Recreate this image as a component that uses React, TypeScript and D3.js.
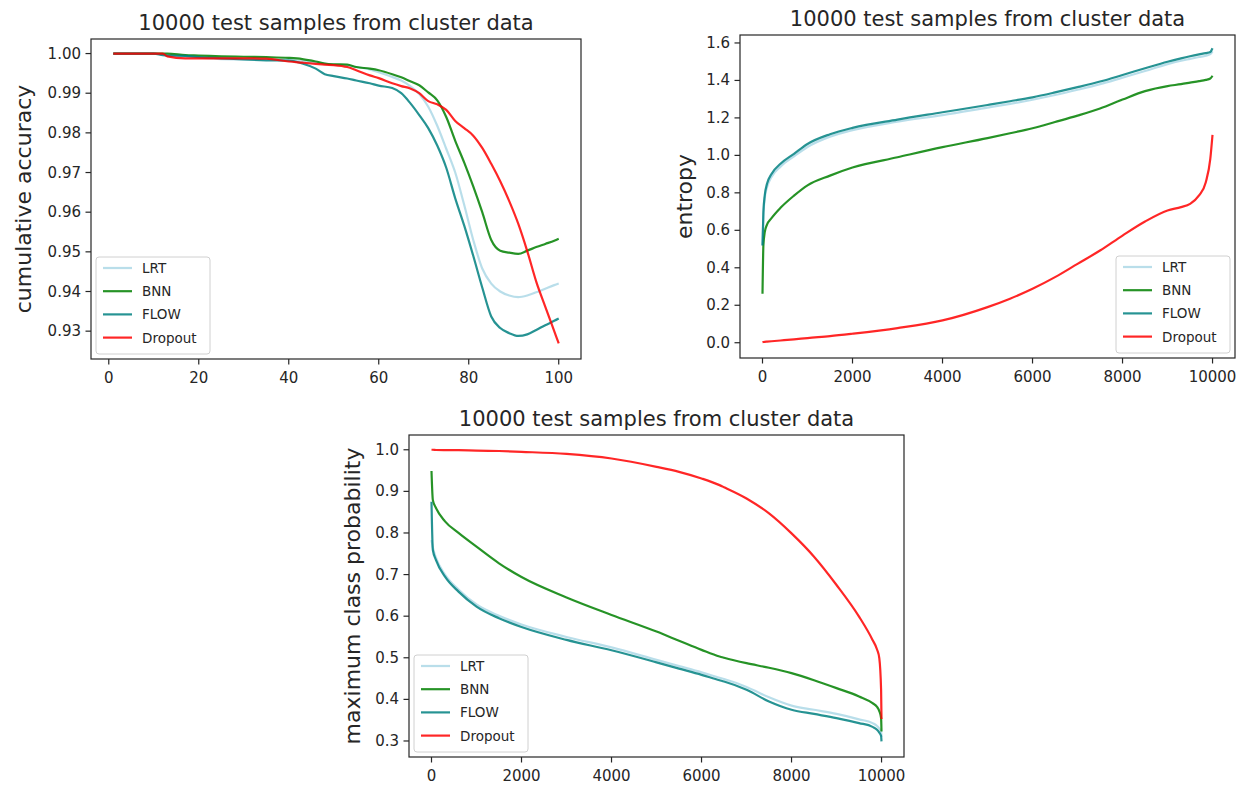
import React, { useEffect, useRef } from "react";
import * as d3 from "d3";

const seriesNames = ["LRT", "BNN", "FLOW", "Dropout"];
const seriesColors = ["#add8e6", "#008000", "#008080", "#ff0000"];

const titleText = "10000 test samples from cluster data";

// panel 1: cumulative accuracy vs percent of samples
const accX = [1, 5, 10, 12, 13, 17, 20, 25, 30, 35, 40, 43, 46, 48, 50, 53, 55, 58, 60, 63, 65, 67, 69, 71, 73, 75, 77, 79, 81, 83, 85, 87, 89, 91, 93, 95, 97, 99, 100];
const accLRT = [1.0, 1.0, 1.0, 0.9998, 0.9995, 0.9993, 0.999, 0.9986, 0.9985, 0.9985, 0.9984, 0.9981, 0.9977, 0.9975, 0.9972, 0.997, 0.9966, 0.996, 0.9953, 0.9941, 0.9932, 0.9918, 0.9898, 0.9866, 0.9818, 0.976, 0.97, 0.9618, 0.953, 0.9458, 0.942, 0.94, 0.939, 0.9386, 0.939, 0.9398, 0.9407, 0.9416, 0.942];
const accBNN = [1.0, 1.0, 1.0, 1.0, 1.0, 0.9996, 0.9995, 0.9993, 0.9992, 0.9991, 0.9989, 0.9986, 0.998, 0.9975, 0.9973, 0.9972, 0.9966, 0.9962, 0.9958, 0.9948, 0.994, 0.993, 0.992, 0.9902, 0.9882, 0.984, 0.978, 0.9725, 0.9665, 0.96, 0.953, 0.9503, 0.9498, 0.9495, 0.9503, 0.9512, 0.952, 0.9528, 0.9533];
const accFLOW = [1.0, 1.0, 1.0, 0.9996, 0.9995, 0.9994, 0.9991, 0.9988, 0.9985, 0.9983, 0.9982, 0.9975, 0.9962, 0.9948, 0.9943, 0.9937, 0.9932, 0.9925, 0.9919, 0.9913, 0.99, 0.9875, 0.9845, 0.9812, 0.9768, 0.9712, 0.9635, 0.9566, 0.949, 0.941, 0.9337, 0.9308, 0.9295, 0.9288, 0.9292, 0.9303, 0.9315, 0.9326, 0.9332];
const accDropout = [1.0, 1.0, 1.0, 1.0, 0.9993, 0.9988, 0.9988, 0.9988, 0.9988, 0.9987, 0.998, 0.9977, 0.9974, 0.9972, 0.9971, 0.9966, 0.9958, 0.9945, 0.9938, 0.9925, 0.9918, 0.9912, 0.99, 0.988, 0.9872, 0.9858, 0.983, 0.9812, 0.9793, 0.9762, 0.9722, 0.9678, 0.9628, 0.9571, 0.9502, 0.9425, 0.9362, 0.93, 0.9269];
const accTicksX = [0, 20, 40, 60, 80, 100];
const accTicksY = [0.93, 0.94, 0.95, 0.96, 0.97, 0.98, 0.99, 1.0];

// panel 2: sorted entropy
const entX = [0, 20, 50, 100, 200, 400, 700, 1000, 1500, 2000, 3000, 4000, 5000, 5500, 6000, 6500, 7000, 7500, 8000, 8500, 9000, 9300, 9500, 9700, 9850, 9950, 9999];
const entLRT = [0.52, 0.68, 0.77, 0.83, 0.885, 0.94, 0.995, 1.045, 1.1, 1.135, 1.18, 1.215, 1.255, 1.275, 1.297, 1.322, 1.35, 1.38, 1.415, 1.45, 1.487, 1.505, 1.515, 1.525, 1.532, 1.54, 1.555];
const entBNN = [0.261, 0.52, 0.59, 0.63, 0.665, 0.72, 0.785, 0.84, 0.892, 0.935, 0.99, 1.044, 1.092, 1.118, 1.145, 1.178, 1.212, 1.25, 1.298, 1.343, 1.37, 1.38, 1.388, 1.396, 1.403, 1.41, 1.425];
const entFLOW = [0.519, 0.697, 0.786, 0.848, 0.901, 0.955, 1.008, 1.061, 1.113, 1.147, 1.191, 1.23, 1.269, 1.289, 1.31, 1.336, 1.364, 1.394, 1.429, 1.465, 1.5, 1.518, 1.529, 1.539, 1.546, 1.552, 1.572];
const entDropout = [0.003, 0.004, 0.005, 0.006, 0.008, 0.012, 0.018, 0.025, 0.035, 0.048, 0.078, 0.119, 0.19, 0.235, 0.288, 0.35, 0.421, 0.492, 0.572, 0.647, 0.706, 0.724, 0.741, 0.786, 0.857, 0.981, 1.109];
const entTicksX = [0, 2000, 4000, 6000, 8000, 10000];
const entTicksY = [0.0, 0.2, 0.4, 0.6, 0.8, 1.0, 1.2, 1.4, 1.6];

// panel 3: sorted maximum class probability
const mcpX = [0, 30, 100, 300, 600, 1000, 1500, 2000, 3000, 4000, 5000, 5500, 6000, 6400, 6500, 7000, 7500, 8000, 8500, 9000, 9500, 9800, 9900, 9950, 9990, 9999];
const mcpLRT = [0.783, 0.765, 0.74, 0.7, 0.664, 0.628, 0.601, 0.58, 0.55, 0.525, 0.495, 0.48, 0.465, 0.452, 0.449, 0.43, 0.405, 0.385, 0.375, 0.365, 0.352, 0.343, 0.336, 0.33, 0.322, 0.31];
const mcpBNN = [0.949, 0.879, 0.86, 0.828, 0.8, 0.767, 0.727, 0.694, 0.645, 0.603, 0.563, 0.541, 0.519, 0.503, 0.5, 0.487, 0.476, 0.463, 0.446, 0.427, 0.407, 0.391, 0.382, 0.372, 0.355, 0.323];
const mcpFLOW = [0.875, 0.759, 0.735, 0.695, 0.659, 0.623, 0.595, 0.574, 0.543, 0.518, 0.489, 0.474, 0.459, 0.446, 0.443, 0.423, 0.395, 0.375, 0.365, 0.355, 0.343, 0.334, 0.327, 0.32, 0.312, 0.299];
const mcpDropout = [1.0, 1.0, 0.9995, 0.9993, 0.999, 0.998, 0.997, 0.995, 0.99, 0.979, 0.959, 0.947, 0.931, 0.915, 0.91, 0.883, 0.847, 0.799, 0.743, 0.675, 0.599, 0.543, 0.52, 0.499, 0.423, 0.353];
const mcpTicksX = [0, 2000, 4000, 6000, 8000, 10000];
const mcpTicksY = [0.3, 0.4, 0.5, 0.6, 0.7, 0.8, 0.9, 1.0];

const FONT = "DejaVu Sans, Liberation Sans, sans-serif";

function drawPanel(svg, cfg) {
  const { left, right, top, bottom, xs, ys, xDomain, yDomain, xTicks, yTicks, yFmt, ylabel, ylabelX, legendPos } = cfg;

  const x = d3.scaleLinear().domain(xDomain).range([left, right]);
  const y = d3.scaleLinear().domain(yDomain).range([bottom, top]);

  const g = svg.append("g");

  // clip to axes area
  const clipId = `clip-${left}-${top}`;
  g.append("clipPath").attr("id", clipId)
    .append("rect").attr("x", left).attr("y", top).attr("width", right - left).attr("height", bottom - top);

  const line = d3.line().curve(d3.curveMonotoneX).x(d => x(d[0])).y(d => y(d[1]));
  ys.forEach((vals, i) => {
    g.append("path")
      .attr("clip-path", `url(#${clipId})`)
      .attr("d", line(xs.map((xv, j) => [xv, vals[j]])))
      .attr("fill", "none")
      .attr("stroke", seriesColors[i])
      .attr("stroke-opacity", 0.85)
      .attr("stroke-width", 2.2)
      .attr("stroke-linejoin", "round");
  });

  // spines
  g.append("rect")
    .attr("x", left).attr("y", top)
    .attr("width", right - left).attr("height", bottom - top)
    .attr("fill", "none").attr("stroke", "#262626").attr("stroke-width", 1.2);

  // x ticks
  xTicks.forEach(t => {
    g.append("line").attr("x1", x(t)).attr("x2", x(t)).attr("y1", bottom).attr("y2", bottom + 5.5)
      .attr("stroke", "#262626").attr("stroke-width", 1.2);
    g.append("text").attr("x", x(t)).attr("y", bottom + 24)
      .attr("text-anchor", "middle").attr("font-family", FONT).attr("font-size", 15).attr("fill", "#262626")
      .text(t);
  });

  // y ticks
  yTicks.forEach(t => {
    g.append("line").attr("x1", left - 5.5).attr("x2", left).attr("y1", y(t)).attr("y2", y(t))
      .attr("stroke", "#262626").attr("stroke-width", 1.2);
    g.append("text").attr("x", left - 10).attr("y", y(t))
      .attr("text-anchor", "end").attr("dominant-baseline", "central")
      .attr("font-family", FONT).attr("font-size", 15).attr("fill", "#262626")
      .text(d3.format(yFmt)(t));
  });

  // title
  g.append("text").attr("x", (left + right) / 2).attr("y", top - 9)
    .attr("text-anchor", "middle").attr("font-family", FONT).attr("font-size", 21).attr("fill", "#262626")
    .text(titleText);

  // y label
  g.append("text")
    .attr("transform", `translate(${ylabelX},${(top + bottom) / 2}) rotate(-90)`)
    .attr("text-anchor", "middle").attr("dominant-baseline", "central")
    .attr("font-family", FONT).attr("font-size", 22).attr("fill", "#262626")
    .text(ylabel);

  // legend
  const lw = 114, lh = 97;
  const lx = legendPos === "right" ? right - 5 - lw : left + 5;
  const ly = bottom - 5 - lh;
  const lg = g.append("g");
  lg.append("rect").attr("x", lx).attr("y", ly).attr("width", lw).attr("height", lh)
    .attr("rx", 3).attr("fill", "white").attr("fill-opacity", 0.8)
    .attr("stroke", "#d0d0d0").attr("stroke-width", 1);
  seriesNames.forEach((name, i) => {
    const cy = ly + 11 + i * 23.2;
    lg.append("line").attr("x1", lx + 7).attr("x2", lx + 36).attr("y1", cy).attr("y2", cy)
      .attr("stroke", seriesColors[i]).attr("stroke-opacity", 0.85).attr("stroke-width", 2.2);
    lg.append("text").attr("x", lx + 46).attr("y", cy)
      .attr("dominant-baseline", "central").attr("font-family", FONT).attr("font-size", 13.5).attr("fill", "#262626")
      .text(name);
  });
}

export default function App() {
  const svgRef = useRef(null);

  useEffect(() => {
    const svg = d3.select(svgRef.current);
    svg.selectAll("*").remove();

    drawPanel(svg, {
      left: 91, right: 581, top: 39, bottom: 359,
      xs: accX, ys: [accLRT, accBNN, accFLOW, accDropout],
      xDomain: [-3.95, 104.95], yDomain: [0.92298, 1.00367],
      xTicks: accTicksX, yTicks: accTicksY, yFmt: ".2f",
      ylabel: "cumulative accuracy", ylabelX: 23, legendPos: "left",
    });

    drawPanel(svg, {
      left: 740, right: 1235, top: 35, bottom: 358,
      xs: entX, ys: [entLRT, entBNN, entFLOW, entDropout],
      xDomain: [-500, 10499], yDomain: [-0.0815, 1.6425],
      xTicks: entTicksX, yTicks: entTicksY, yFmt: ".1f",
      ylabel: "entropy", ylabelX: 684, legendPos: "right",
    });

    drawPanel(svg, {
      left: 409, right: 904, top: 435, bottom: 757,
      xs: mcpX, ys: [mcpLRT, mcpBNN, mcpFLOW, mcpDropout],
      xDomain: [-500, 10499], yDomain: [0.2615, 1.0355],
      xTicks: mcpTicksX, yTicks: mcpTicksY, yFmt: ".1f",
      ylabel: "maximum class probability", ylabelX: 352, legendPos: "left",
    });
  }, []);

  return (
    <svg
      ref={svgRef}
      width={1248}
      height={788}
      style={{ position: "absolute", left: 0, top: 0, background: "white" }}
    />
  );
}
